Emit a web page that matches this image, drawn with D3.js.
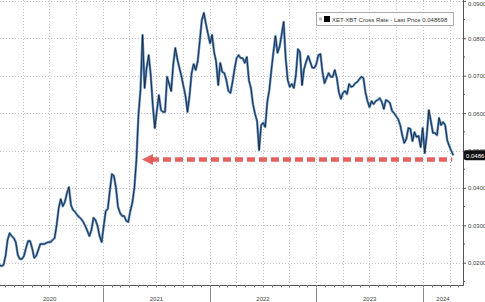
<!DOCTYPE html>
<html>
<head>
<meta charset="utf-8">
<script src="https://cdn.jsdelivr.net/npm/d3@7"></script>
<style>
  body { margin: 0; background: #fff; }
  svg { display: block; font-family: "Liberation Sans", Arial, sans-serif; }
</style>
</head>
<body>
<svg id="chart" width="485" height="302"></svg>
<script>
// weekly closes of XET-XBT (first week starts 2020-01-12)
let startWeek = new Date(2020, 0, 12);
let endWeek = new Date(2024, 3, 15);
let prices = [
  0.0194, 0.0191, 0.0194, 0.0218, 0.0261, 0.0279, 0.0271, 0.0266, 0.0255, 0.0221,
  0.0210, 0.0210, 0.0218, 0.0239, 0.0258, 0.0258, 0.0239, 0.0213, 0.0218, 0.0234,
  0.0250, 0.0250, 0.0250, 0.0253, 0.0255, 0.0255, 0.0261, 0.0266, 0.0301, 0.0346,
  0.0370, 0.0351, 0.0362, 0.0386, 0.0402, 0.0354, 0.0341, 0.0336, 0.0328, 0.0322,
  0.0317, 0.0309, 0.0298, 0.0285, 0.0271, 0.0287, 0.0320, 0.0314, 0.0298, 0.0271,
  0.0255, 0.0298, 0.0338, 0.0344, 0.0392, 0.0437, 0.0432, 0.0400, 0.0349, 0.0333,
  0.0325, 0.0325, 0.0312, 0.0309, 0.0338, 0.0360, 0.0400, 0.0475, 0.0595, 0.0662,
  0.0809, 0.0667, 0.0721, 0.0755, 0.0702, 0.0622, 0.0560, 0.0606, 0.0648, 0.0608,
  0.0603, 0.0603, 0.0697, 0.0678, 0.0659, 0.0729, 0.0774, 0.0745, 0.0721, 0.0699,
  0.0672, 0.0646, 0.0603, 0.0648, 0.0707, 0.0731, 0.0715, 0.0739, 0.0793, 0.0849,
  0.0868, 0.0838, 0.0812, 0.0787, 0.0809, 0.0763, 0.0737, 0.0675, 0.0734, 0.0710,
  0.0707, 0.0688, 0.0659, 0.0654, 0.0683, 0.0718, 0.0747, 0.0755, 0.0747, 0.0747,
  0.0734, 0.0750, 0.0688, 0.0667, 0.0624, 0.0598, 0.0579, 0.0501, 0.0568, 0.0574,
  0.0563, 0.0630, 0.0662, 0.0715, 0.0763, 0.0806, 0.0761, 0.0777, 0.0809, 0.0844,
  0.0747, 0.0688, 0.0670, 0.0678, 0.0667, 0.0702, 0.0771, 0.0763, 0.0675, 0.0718,
  0.0737, 0.0753, 0.0737, 0.0721, 0.0721, 0.0731, 0.0755, 0.0758, 0.0710, 0.0680,
  0.0694, 0.0707, 0.0697, 0.0697, 0.0715, 0.0694, 0.0656, 0.0638, 0.0654, 0.0659,
  0.0651, 0.0678, 0.0670, 0.0672, 0.0680, 0.0683, 0.0691, 0.0697, 0.0694, 0.0656,
  0.0632, 0.0616, 0.0632, 0.0624, 0.0632, 0.0635, 0.0640, 0.0630, 0.0611, 0.0635,
  0.0632, 0.0627, 0.0606, 0.0600, 0.0592, 0.0584, 0.0568, 0.0541, 0.0520, 0.0531,
  0.0560, 0.0558, 0.0525, 0.0549, 0.0536, 0.0539, 0.0509, 0.0560, 0.0493, 0.0541,
  0.0608, 0.0579, 0.0547, 0.0547, 0.0541, 0.0587, 0.0568, 0.0576, 0.0568, 0.0528,
  0.0512, 0.0499, 0.048698
];

let yTicks = [0.02, 0.03, 0.04, 0.05, 0.06, 0.07, 0.08, 0.09];
let yTickLabels = ["0.0200", "0.0300", "0.0400", "0.0500", "0.0600", "0.0700", "0.0800", "0.0900"];
let years = ["2020", "2021", "2022", "2023", "2024"];
let legendText = "XET-XBT Cross Rate - Last Price 0.048698";
let lastLabel = "0.0486";

// the red "support" arrow drawn over the chart
let arrowLevel = 0.0476;
let arrowFrom = new Date(2021, 4, 14);
let arrowTo = new Date(2024, 3, 10);

let svg = d3.select("#chart");
let plotW = 463, plotH = 285;

let dates = d3.timeWeek.range(startWeek, endWeek);
let data = dates.map((d, i) => ({ date: d, price: prices[i] }));

let x = d3.scaleTime()
  .domain([new Date(2020, 0, 14), new Date(2024, 4, 17)])
  .range([0, plotW]);
let y = d3.scaleLinear()
  .domain([0.01404, 0.09024])
  .range([plotH, 0]);

// dotted grid
let grid = svg.append("g").attr("stroke", "#c4c4c4").attr("stroke-width", 1).attr("stroke-dasharray", "1,2");
grid.selectAll(".hg").data(yTicks).enter().append("line")
  .attr("x1", 0).attr("x2", plotW)
  .attr("y1", d => Math.round(y(d)) + 0.5).attr("y2", d => Math.round(y(d)) + 0.5);
grid.selectAll(".vg").data(d3.timeMonth.every(3).range(x.domain()[0], x.domain()[1])).enter().append("line")
  .attr("x1", d => Math.round(x(d)) + 0.5).attr("x2", d => Math.round(x(d)) + 0.5)
  .attr("y1", 0).attr("y2", plotH);

// price line: blue underneath, dark on top
let line = d3.line().x(d => x(d.date)).y(d => y(d.price));
svg.append("path").datum(data)
  .attr("fill", "none").attr("stroke", "#5a8cc4").attr("stroke-width", 2.4)
  .attr("stroke-linejoin", "round").attr("d", line);
svg.append("path").datum(data)
  .attr("fill", "none").attr("stroke", "#111822").attr("stroke-width", 0.8)
  .attr("stroke-linejoin", "round").attr("d", line);

// arrow
let ay = y(arrowLevel);
svg.append("line")
  .attr("x1", x(arrowFrom) + 9).attr("x2", x(arrowTo))
  .attr("y1", ay).attr("y2", ay)
  .attr("stroke", "#e0524f").attr("stroke-width", 4.5)
  .attr("stroke-dasharray", "8,4").attr("opacity", 0.9);
svg.append("path")
  .attr("d", `M${x(arrowFrom)},${ay} L${x(arrowFrom) + 11},${ay - 5.5} L${x(arrowFrom) + 11},${ay + 5.5} Z`)
  .attr("fill", "#e0524f").attr("opacity", 0.9);

// right axis
let yAxis = svg.append("g").attr("transform", `translate(${plotW},0)`)
  .call(d3.axisRight(y).tickValues(yTicks).tickSize(3).tickPadding(2).tickFormat((d, i) => yTickLabels[i]));
yAxis.select(".domain").attr("stroke", "#555").attr("d", `M0.5,0V${plotH + 0.5}`);
yAxis.selectAll(".tick line").attr("stroke", "#555");
yAxis.selectAll(".tick text").attr("fill", "#444").attr("font-size", 6).attr("font-family", "Liberation Sans, Arial");
// top label would be cut at the edge, nudge it down a little
yAxis.selectAll(".tick text").filter(d => d === 0.09).attr("dy", "0.75em");
let minorY = d3.range(0.015, 0.09, 0.01);
svg.append("g").selectAll("line").data(minorY).enter().append("line")
  .attr("x1", plotW).attr("x2", plotW + 2)
  .attr("y1", d => y(d)).attr("y2", d => y(d))
  .attr("stroke", "#555");

// bottom axis: month ticks, year separators, year labels
let xg = svg.append("g");
xg.append("line").attr("x1", 0).attr("x2", plotW + 0.5)
  .attr("y1", plotH + 0.5).attr("y2", plotH + 0.5).attr("stroke", "#555");
xg.selectAll(".mt").data(d3.timeMonth.range(x.domain()[0], x.domain()[1])).enter().append("line")
  .attr("x1", d => Math.round(x(d)) + 0.5).attr("x2", d => Math.round(x(d)) + 0.5)
  .attr("y1", plotH).attr("y2", plotH + 2.5).attr("stroke", "#777");
let yearStarts = years.map(s => new Date(+s, 0, 1));
xg.selectAll(".ys").data(yearStarts.slice(1)).enter().append("line")
  .attr("x1", d => Math.round(x(d)) + 0.5).attr("x2", d => Math.round(x(d)) + 0.5)
  .attr("y1", plotH + 3).attr("y2", 302).attr("stroke", "#888");
xg.selectAll("text").data(years).enter().append("text")
  .attr("x", (d, i) => (x(yearStarts[i]) + Math.min(x(new Date(+d + 1, 0, 1)), plotW)) / 2)
  .attr("y", 300.5)
  .attr("text-anchor", "middle").attr("font-size", 6).attr("fill", "#444")
  .text(d => d);

// last price tag
let ly = y(prices[prices.length - 1]);
svg.append("rect").attr("x", plotW + 1).attr("y", ly - 5).attr("width", 24).attr("height", 10)
  .attr("rx", 2).attr("fill", "#111");
svg.append("text").attr("x", plotW + 3).attr("y", ly + 2.2)
  .attr("font-size", 6).attr("fill", "#fff").text(lastLabel);

// legend
let lg = svg.append("g");
lg.append("rect").attr("x", 316.5).attr("y", 12.5).attr("width", 137).attr("height", 13)
  .attr("fill", "#fff").attr("stroke", "#999").attr("stroke-width", 0.8);
lg.append("rect").attr("x", 319).attr("y", 17.5).attr("width", 3).attr("height", 3).attr("fill", "#bbb");
lg.append("rect").attr("x", 324).attr("y", 16).attr("width", 6).attr("height", 6).attr("fill", "#000");
lg.append("text").attr("x", 332).attr("y", 21.5).attr("font-size", 6).attr("fill", "#333").text(legendText);
</script>
</body>
</html>
